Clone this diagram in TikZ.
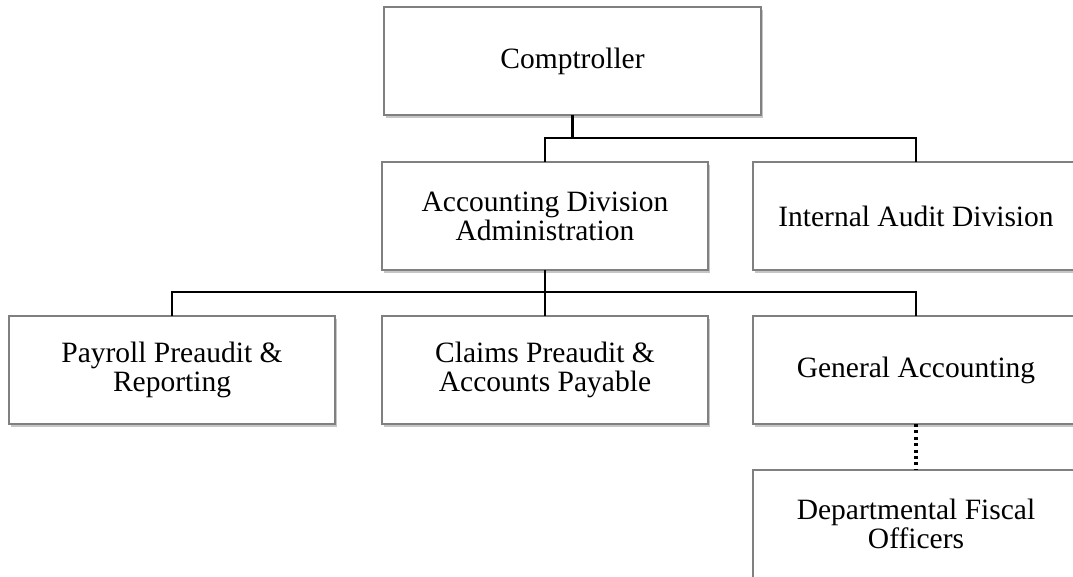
\documentclass[tikz,border=0pt]{standalone}
\usepackage{fontspec}
\setmainfont{Liberation Serif}
\usetikzlibrary{shadows}
\begin{document}
\begin{tikzpicture}[x=1pt,y=-1pt,
  orgbox/.style={draw=black!50, line width=1.2pt, fill=white, minimum width=326pt, minimum height=108pt,
    inner sep=0pt, outer sep=0pt, align=center, font=\fontsize{29.5}{29}\selectfont,
    drop shadow={shadow xshift=1.5pt, shadow yshift=-3pt, fill=black!50, opacity=0.45}},
  conn/.style={line width=2.6pt, black},
  dotconn/.style={line width=3.4pt, black, dash pattern=on 3pt off 3.4pt}]
\useasboundingbox (0,0) rectangle (1073,577);
\node[orgbox, minimum width=377pt] (comp) at (572.5,61) {Comptroller};
\node[orgbox] (acct) at (545,216) {Accounting Division\\Administration};
\node[orgbox] (internal) at (916,216) {Internal Audit Division};
\node[orgbox] (pay) at (172,370) {Payroll Preaudit \&\\Reporting};
\node[orgbox] (claims) at (545,370) {Claims Preaudit \&\\Accounts Payable};
\node[orgbox] (gen) at (916,370) {General Accounting};
\node[orgbox] (dept) at (916,524) {Departmental Fiscal\\Officers};
\coordinate (j1) at (572.5,138);
\coordinate (j2) at (545,292);
\draw[conn] (comp.south) -- (j1);
\draw[conn] (acct.north) |- (j1) -| (internal.north);
\draw[conn] (acct.south) -- (j2);
\draw[conn] (pay.north) |- (j2) -| (gen.north);
\draw[conn] (j2) -- (claims.north);
\draw[dotconn] (gen.south) -- (dept.north);
\end{tikzpicture}
\end{document}
